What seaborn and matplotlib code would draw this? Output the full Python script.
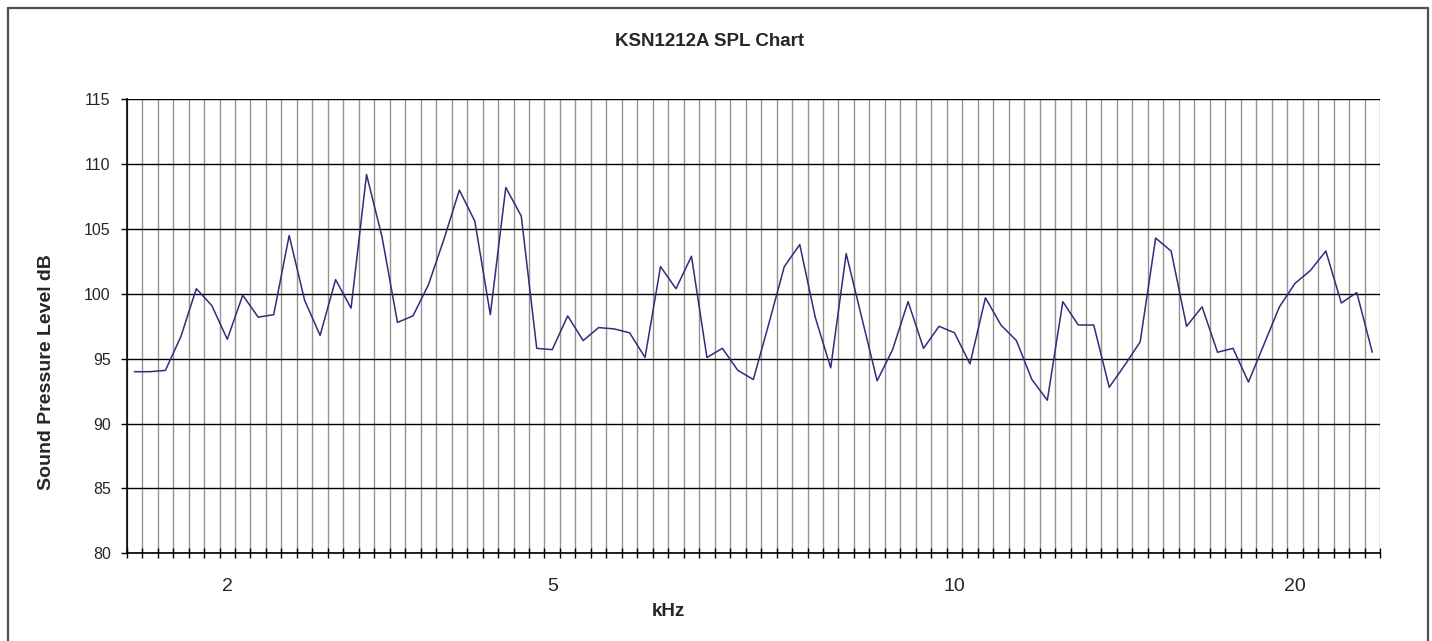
import numpy as np
import pandas as pd
import seaborn as sns
import matplotlib.pyplot as plt
from matplotlib.lines import Line2D

# SPL readings, one per measurement step (dB)
spl = [94.0, 94.0, 94.1, 96.7, 100.4, 99.1, 96.5, 99.9, 98.2, 98.4,
       104.5, 99.5, 96.8, 101.1, 98.9, 109.2, 104.4, 97.8, 98.3, 100.7,
       104.2, 108.0, 105.6, 98.4, 108.2, 106.0, 95.8, 95.7, 98.3, 96.4,
       97.4, 97.3, 97.0, 95.1, 102.1, 100.4, 102.9, 95.1, 95.8, 94.1,
       93.4, 97.7, 102.1, 103.8, 98.2, 94.3, 103.1, 98.2, 93.3, 95.7,
       99.4, 95.8, 97.5, 97.0, 94.6, 99.7, 97.6, 96.4, 93.4, 91.8,
       99.4, 97.6, 97.6, 92.8, 94.5, 96.3, 104.3, 103.3, 97.5, 99.0,
       95.5, 95.8, 93.2, 96.1, 99.0, 100.8, 101.8, 103.3, 99.3, 100.1,
       95.5]

# kHz labels shown under a few of the steps
label_pos = [6, 27, 53, 75]
label_txt = ['2', '5', '10', '20']

sns.set_style('white')
plt.rcParams['font.family'] = ['Liberation Sans', 'DejaVu Sans']

W, H = 1432, 641
fig = plt.figure(figsize=(W / 100, H / 100), dpi=100)
ax = fig.add_axes([126.7 / W, 1 - 553.3 / H, (1380 - 126.7) / W, (553.3 - 99.3) / H])

df = pd.DataFrame({'step': np.arange(len(spl)), 'spl': spl})
sns.lineplot(data=df, x='step', y='spl', ax=ax, color='#2e2e7a', linewidth=1.1)

ax.set_xlim(-0.5, len(spl) - 0.5)
ax.set_ylim(80, 115)
ax.set_yticks(range(80, 116, 5))
ax.set_xticks(label_pos)
ax.set_xticklabels(label_txt, fontsize=14, fontstretch='condensed')
ax.set_xticks(np.arange(-0.5, len(spl)), minor=True)

ax.grid(False)
ax.grid(axis='y', which='major', color='black', linewidth=1)
ax.grid(axis='x', which='minor', color='#939393', linewidth=1)
ax.set_axisbelow(True)

ax.tick_params(axis='x', which='major', length=0, pad=18)
ax.tick_params(axis='x', which='minor', direction='inout', length=7, width=1, color='black', bottom=True)
ax.tick_params(axis='y', direction='out', length=4.5, width=1, color='black', labelsize=11.5, pad=7, left=True)

for s in ['top', 'right']:
    ax.spines[s].set_visible(False)
for s in ['left', 'bottom']:
    ax.spines[s].set_color('black')
    ax.spines[s].set_linewidth(1.2)

ax.set_xlabel('')
ax.set_ylabel('')
fig.text(710 / W, 1 - 41 / H, 'KSN1212A SPL Chart', ha='center', va='center',
         fontsize=13.5, fontweight='bold')
fig.text(47 / W, 1 - 372 / H, 'Sound Pressure Level dB', ha='center', va='center',
         rotation=90, fontsize=14, fontweight='bold')
fig.text(668 / W, 1 - 612 / H, 'kHz', ha='center', va='center',
         fontsize=13.5, fontweight='bold')

# outer chart border
bc = '#505050'
fig.add_artist(Line2D([8 / W, 8 / W], [0, 1 - 8 / H], color=bc, linewidth=1.6))
fig.add_artist(Line2D([8 / W, 1428 / W], [1 - 8 / H, 1 - 8 / H], color=bc, linewidth=1.6))
fig.add_artist(Line2D([1428 / W, 1428 / W], [0, 1 - 8 / H], color=bc, linewidth=1.6))

fig.savefig('out.png', dpi=100, facecolor='white')
